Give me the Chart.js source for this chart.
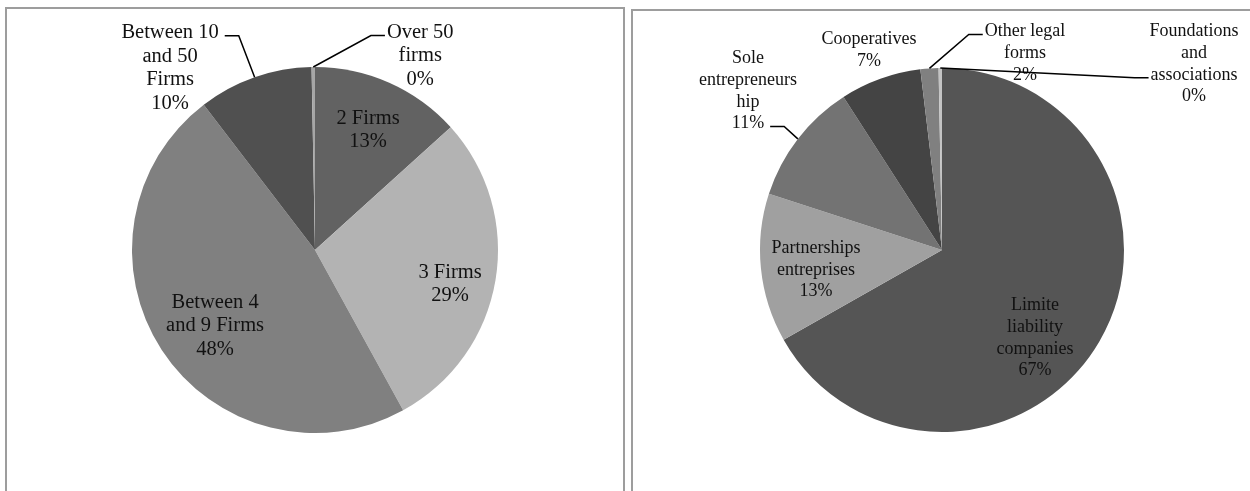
<!DOCTYPE html>
<html>
<head>
<meta charset="utf-8">
<script src="https://cdn.jsdelivr.net/npm/chart.js@4"></script>
<style>
    body { margin: 0; background: #fff; width: 1250px; height: 491px; overflow: hidden; position: relative; }
    .panel { position: absolute; border: 2px solid #9d9d9d; border-bottom: none; box-sizing: border-box; }
    #leftPanel { left: 5px; top: 7px; width: 620px; height: 500px; }
    #rightPanel { left: 631px; top: 9px; width: 640px; height: 500px; }
    canvas { position: absolute; top: 0; }
    #leftChart { left: 0; }
    #rightChart { left: 625px; }
</style>
</head>
<body>
<div class="panel" id="leftPanel"></div>
<div class="panel" id="rightPanel"></div>
<canvas id="leftChart" width="625" height="491"></canvas>
<canvas id="rightChart" width="625" height="491"></canvas>
<script>
// left pie: number of firms
const leftLabels = [['2 Firms'], ['3 Firms'], ['Between 4', 'and 9 Firms'], ['Between 10', 'and 50', 'Firms'], ['Over 50', 'firms']];
const leftValues = [13.3, 28.7, 47.6, 10.1, 0.3];
const leftColors = ['#626262', '#b3b3b3', '#808080', '#505050', '#a6a6a6'];

// right pie: legal form
const rightLabels = [['Limite', 'liability', 'companies'], ['Partnerships', 'entreprises'], ['Sole', 'entrepreneurs', 'hip'], ['Cooperatives'], ['Other legal', 'forms'], ['Foundations', 'and', 'associations']];
const rightValues = [66.8, 13.2, 10.9, 7.2, 1.6, 0.3];
const rightColors = ['#555555', '#a0a0a0', '#737373', '#444444', '#808080', '#c4c4c4'];

// label placement, in radius units from pie centre; leader = [side, line index]
const leftLabelPos = [[0.29, -0.656], [0.738, 0.186], [-0.546, 0.415], [-0.792, -0.995], [0.575, -1.06]];
const leftLeaders = [null, null, null, ['left', 0], ['right', 0]];
const rightLabelPos = [[0.511, 0.484], [-0.692, 0.11], [-1.066, -0.874], [-0.401, -1.099], [0.456, -1.082], [1.385, -1.022]];
const rightLeaders = [null, null, ['left', 3], null, ['right', 0], ['right', 2]];

const labelPlugin = {
    id: 'sliceLabels',
    afterDatasetsDraw(chart) {
        const cfg = chart.options.plugins.sliceLabels;
        const ctx = chart.ctx;
        const arcs = chart.getDatasetMeta(0).data;
        const values = chart.data.datasets[0].data;
        const total = values.reduce((a, b) => a + b, 0);
        ctx.save();
        ctx.font = cfg.fontSize + 'px "Liberation Serif", "Times New Roman", serif';
        ctx.fillStyle = '#111';
        ctx.textAlign = 'center';
        ctx.textBaseline = 'middle';
        arcs.forEach((arc, i) => {
            const r = arc.outerRadius;
            const lines = chart.data.labels[i].concat([Math.round(values[i] / total * 100) + '%']);
            const cx = arc.x + cfg.pos[i][0] * r;
            const cy = arc.y + cfg.pos[i][1] * r;
            const top = cy - (lines.length - 1) * cfg.lineHeight / 2;
            lines.forEach((t, k) => ctx.fillText(t, cx, top + k * cfg.lineHeight));

            const leader = cfg.leaders[i];
            if (!leader) return;
            const mid = (arc.startAngle + arc.endAngle) / 2;
            const ex = arc.x + Math.cos(mid) * r;
            const ey = arc.y + Math.sin(mid) * r;
            const ly = top + leader[1] * cfg.lineHeight + 3;
            const w = ctx.measureText(lines[leader[1]]).width;
            let x0, x1;
            if (leader[0] === 'left') {
                x0 = cx + w / 2 + 6;
                x1 = x0 + 14;
            } else {
                x0 = cx - w / 2 - 2;
                x1 = x0 - 14;
            }
            ctx.strokeStyle = '#000';
            ctx.lineWidth = 1.5;
            ctx.beginPath();
            ctx.moveTo(x0, ly);
            ctx.lineTo(x1, ly);
            ctx.lineTo(ex, ey);
            ctx.stroke();
        });
        ctx.restore();
    }
};

function makePie(id, labels, values, colors, pos, leaders, fontSize, lineHeight, padding) {
    const ctx = document.getElementById(id).getContext('2d');
    new Chart(ctx, {
        type: 'pie',
        data: {
            labels: labels,
            datasets: [{
                data: values,
                backgroundColor: colors,
                borderWidth: 0
            }]
        },
        options: {
            responsive: false,
            animation: false,
            layout: { padding: padding },
            plugins: {
                legend: { display: false },
                tooltip: { enabled: false },
                sliceLabels: { pos: pos, leaders: leaders, fontSize: fontSize, lineHeight: lineHeight }
            }
        },
        plugins: [labelPlugin]
    });
}

makePie('leftChart', leftLabels, leftValues, leftColors, leftLabelPos, leftLeaders, 20.5, 23.5,
    { left: 132, right: 127, top: 67, bottom: 58 });
makePie('rightChart', rightLabels, rightValues, rightColors, rightLabelPos, rightLeaders, 18, 21.7,
    { left: 135, right: 126, top: 68, bottom: 59 });
</script>
</body>
</html>
